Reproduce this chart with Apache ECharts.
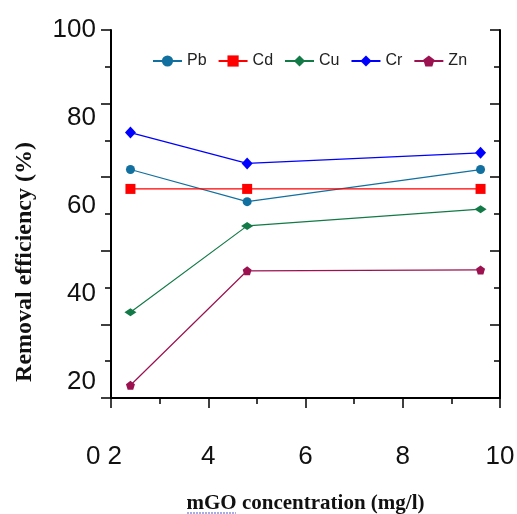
<!DOCTYPE html>
<html>
<head>
<meta charset="utf-8">
<script src="https://cdn.jsdelivr.net/npm/echarts@6.0.0/dist/echarts.min.js"></script>
<style>
  html, body { margin: 0; padding: 0; background: #fff; }
  #main { width: 517px; height: 514px; }
</style>
</head>
<body>
<div id="main"></div>
<script>
// mGO concentration (mg/l)
const doses = [2.4, 4.8, 9.6];
// removal efficiency (%) per metal
const pb = [68.3, 61.0, 68.3];
const cd = [63.9, 63.9, 63.9];
const cu = [35.9, 55.5, 59.3];
const cr = [76.7, 69.7, 72.1];
const zn = [19.3, 45.3, 45.5];
// y tick labels
const yLabels = [20, 40, 60, 80, 100];

const sans = "'Liberation Sans', Arial, sans-serif";
const serif = "'Liberation Serif', 'Times New Roman', serif";

const pentagon = 'path://M0,-10 L9.5,-3.1 L5.9,8.1 L-5.9,8.1 L-9.5,-3.1 Z';

function pairs(ys) {
    return doses.map((x, i) => [x, ys[i]]);
}

function makeSeries(name, ys, color, symbol, size) {
    return {
        name: name,
        type: 'line',
        xAxisIndex: 0,
        yAxisIndex: 0,
        data: pairs(ys),
        symbol: symbol,
        symbolSize: size,
        showAllSymbol: true,
        lineStyle: {color: color, width: 1.2},
        itemStyle: {color: color},
        emphasis: {disabled: true},
        animation: false
    };
}

const tickAxisCommon = {
    type: 'value',
    min: 0,
    max: 10,
    interval: 2,
    axisLine: {show: false},
    axisLabel: {show: false},
    splitLine: {show: false},
    axisTick: {show: true, length: 10, lineStyle: {color: '#000', width: 1.5}},
    minorTick: {show: true, splitNumber: 2, length: 6, lineStyle: {color: '#000', width: 1.5}}
};

const myChart = echarts.init(document.getElementById('main'));
myChart.setOption({
    animation: false,
    grid: {
        left: 111,
        top: 30,
        right: 17,
        bottom: 116,
        containLabel: false,
        outerBoundsMode: 'none'
    },
    legend: {
        left: 147,
        top: 48,
        itemWidth: 29,
        itemHeight: 14,
        itemGap: 11,
        textStyle: {fontFamily: sans, fontSize: 16, color: '#222'},
        data: ['Pb', 'Cd', 'Cu', 'Cr', 'Zn']
    },
    xAxis: [
        {
            type: 'value',
            position: 'bottom',
            min: 2,
            max: 10,
            interval: 2,
            axisLine: {show: true, lineStyle: {color: '#000', width: 2}},
            axisTick: {show: true, length: 10, lineStyle: {color: '#000', width: 1.5}},
            minorTick: {show: true, splitNumber: 2, length: 6, lineStyle: {color: '#000', width: 1.5}},
            splitLine: {show: false},
            axisLabel: {
                margin: 46,
                fontFamily: sans,
                fontSize: 26,
                color: '#111',
                formatter: function (v) {
                    return v === 2 ? '{s|0 2}' : String(v);
                },
                rich: {
                    s: {fontFamily: sans, fontSize: 26, color: '#111', padding: [0, 14, 0, 0]}
                }
            },
            name: 'mGO concentration (mg/l)',
            nameLocation: 'middle',
            nameGap: 95,
            nameTextStyle: {fontFamily: serif, fontWeight: 'bold', fontSize: 21, color: '#111'}
        },
        {
            type: 'value',
            position: 'top',
            min: 2,
            max: 10,
            interval: 2,
            axisLine: {show: true, lineStyle: {color: '#000', width: 2}},
            axisTick: {show: true, inside: true, length: 10, lineStyle: {color: '#000', width: 1.5}},
            minorTick: {show: true, splitNumber: 2, length: 6, lineStyle: {color: '#000', width: 1.5}},
            splitLine: {show: false},
            axisLabel: {show: false}
        }
    ],
    yAxis: [
        {
            type: 'value',
            position: 'left',
            min: 16.4,
            max: 100,
            axisLine: {show: true, lineStyle: {color: '#000', width: 2}},
            axisTick: {show: false},
            splitLine: {show: false},
            axisLabel: {
                customValues: yLabels,
                margin: 15,
                fontFamily: sans,
                fontSize: 26,
                color: '#111'
            }
        },
        Object.assign({}, tickAxisCommon, {position: 'left'}),
        Object.assign({}, tickAxisCommon, {
            position: 'right',
            axisLine: {show: true, lineStyle: {color: '#000', width: 2}},
            axisTick: {show: true, inside: true, length: 10, lineStyle: {color: '#000', width: 1.5}},
            minorTick: {show: true, splitNumber: 2, length: 6, lineStyle: {color: '#000', width: 1.5}}
        })
    ],
    graphic: [
        {
            type: 'text',
            x: 25,
            y: 262,
            rotation: Math.PI / 2,
            style: {
                text: 'Removal efficiency (%)',
                fontFamily: serif,
                fontWeight: 'bold',
                fontSize: 24,
                fill: '#111',
                align: 'center',
                verticalAlign: 'middle'
            }
        },
        {
            // spell-check underline under "mGO"
            type: 'line',
            shape: {x1: 187, y1: 513, x2: 236, y2: 513},
            style: {stroke: '#4a5bd6', lineWidth: 1.2, lineDash: [2, 1]}
        }
    ],
    series: [
        makeSeries('Pb', pb, '#11709f', 'circle', 9),
        makeSeries('Cd', cd, '#ff0000', 'rect', 10),
        makeSeries('Cu', cu, '#127a46', 'diamond', [12, 8]),
        makeSeries('Cr', cr, '#0000ff', 'diamond', [11, 12]),
        makeSeries('Zn', zn, '#9c1250', pentagon, 9)
    ]
});
</script>
</body>
</html>
